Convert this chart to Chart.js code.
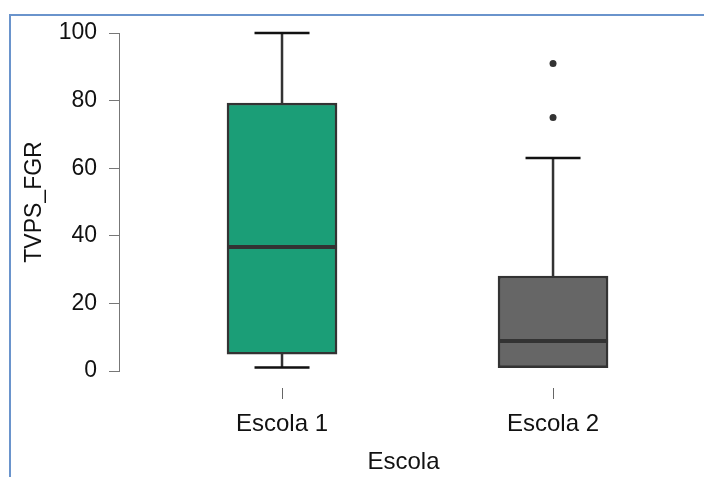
<!DOCTYPE html>
<html>
<head>
<meta charset="utf-8">
<script src="https://cdn.jsdelivr.net/npm/chart.js@4.4.1/dist/chart.umd.min.js"></script>
<style>
    html, body { margin: 0; padding: 0; background: #fff; }
    #wrap { position: relative; width: 704px; height: 477px; }
    #frame { position: absolute; left: 9px; top: 14px; right: -4px; bottom: -4px; border-top: 2px solid #6a94cc; border-left: 2px solid #6a94cc; }
    canvas { position: absolute; left: 0; top: 0; }
</style>
</head>
<body>
<div id="wrap">
    <div id="frame"></div>
    <canvas id="chart" width="704" height="477"></canvas>
</div>
<script>
// box plot summaries, one entry per school
const categories = ['Escola 1', 'Escola 2'];
const whiskerLow = [1, 1];
const q1 = [5, 1];
const median = [36.7, 8.9];
const q3 = [79.3, 28.1];
const whiskerHigh = [100, 63];
const outliers = [[], [91, 75]];
const colours = ['#1b9e77', '#666666'];

const yTicks = [0, 20, 40, 60, 80, 100];

const FONT = 'Liberation Sans, Arial, sans-serif';

// whiskers, caps, medians and the small x tick marks
const boxExtras = {
    id: 'boxExtras',
    afterDatasetsDraw(chart) {
        const ctx = chart.ctx;
        const x = chart.scales.x;
        const y = chart.scales.y;
        const half = 55;
        ctx.save();
        categories.forEach((c, i) => {
            const cx = x.getPixelForValue(i + 1);
            // whisker stems
            ctx.strokeStyle = '#333333';
            ctx.lineWidth = 2.5;
            ctx.beginPath();
            ctx.moveTo(cx, y.getPixelForValue(q3[i]));
            ctx.lineTo(cx, y.getPixelForValue(whiskerHigh[i]));
            ctx.moveTo(cx, y.getPixelForValue(q1[i]));
            ctx.lineTo(cx, y.getPixelForValue(whiskerLow[i]));
            ctx.stroke();
            // caps
            ctx.strokeStyle = '#111111';
            ctx.lineWidth = 2.5;
            ctx.beginPath();
            if (whiskerHigh[i] > q3[i]) {
                ctx.moveTo(cx - half / 2, y.getPixelForValue(whiskerHigh[i]));
                ctx.lineTo(cx + half / 2, y.getPixelForValue(whiskerHigh[i]));
            }
            if (whiskerLow[i] < q1[i]) {
                ctx.moveTo(cx - half / 2, y.getPixelForValue(whiskerLow[i]));
                ctx.lineTo(cx + half / 2, y.getPixelForValue(whiskerLow[i]));
            }
            ctx.stroke();
            // median
            ctx.strokeStyle = '#333333';
            ctx.lineWidth = 4;
            ctx.beginPath();
            ctx.moveTo(cx - half, y.getPixelForValue(median[i]));
            ctx.lineTo(cx + half, y.getPixelForValue(median[i]));
            ctx.stroke();
            // x tick mark
            ctx.strokeStyle = '#666666';
            ctx.lineWidth = 1;
            ctx.beginPath();
            ctx.moveTo(Math.round(cx) + 0.5, chart.chartArea.bottom + 17);
            ctx.lineTo(Math.round(cx) + 0.5, chart.chartArea.bottom + 28);
            ctx.stroke();
        });
        ctx.restore();
    }
};

const outlierPoints = [];
outliers.forEach((list, i) => list.forEach(v => outlierPoints.push({ x: i + 1, y: v })));

new Chart(document.getElementById('chart'), {
    type: 'bar',
    data: {
        datasets: [{
            label: 'box',
            data: categories.map((c, i) => ({ x: i + 1, y: [q1[i], q3[i]] })),
            backgroundColor: colours,
            borderColor: '#333333',
            borderWidth: 2.5,
            borderSkipped: false,
            barThickness: 110
        }, {
            type: 'scatter',
            label: 'outliers',
            data: outlierPoints,
            pointRadius: 3.5,
            pointBackgroundColor: '#333333',
            pointBorderWidth: 0
        }]
    },
    options: {
        responsive: false,
        animation: false,
        layout: { padding: { top: 33, right: 16, left: 0, bottom: 0 } },
        plugins: {
            legend: { display: false },
            tooltip: { enabled: false }
        },
        scales: {
            x: {
                type: 'linear',
                offset: false,
                min: 0.3985,
                max: 2.498,
                afterBuildTicks: scale => { scale.ticks = [{ value: 1 }, { value: 2 }]; },
                afterFit: scale => { scale.height = 106; },
                grid: { display: false },
                border: { display: false },
                ticks: {
                    color: '#111',
                    font: { family: FONT, size: 24 },
                    padding: 31,
                    callback: v => categories[v - 1]
                },
                title: {
                    display: true,
                    text: 'Escola',
                    color: '#111',
                    font: { family: FONT, size: 24 },
                    padding: { top: 0, bottom: 0 }
                }
            },
            y: {
                min: 0,
                max: 100,
                afterBuildTicks: scale => { scale.ticks = yTicks.map(v => ({ value: v })); },
                afterFit: scale => { scale.width = 119; },
                grid: {
                    drawOnChartArea: false,
                    color: '#777777',
                    tickLength: 10
                },
                border: { display: true, color: '#777777', width: 1 },
                ticks: {
                    color: '#111',
                    font: { family: FONT, size: 23 },
                    padding: 12
                },
                title: {
                    display: true,
                    text: 'TVPS_FGR',
                    color: '#111',
                    font: { family: FONT, size: 23 },
                    padding: { top: 21, bottom: 0 }
                }
            }
        }
    },
    plugins: [boxExtras]
});
</script>
</body>
</html>
